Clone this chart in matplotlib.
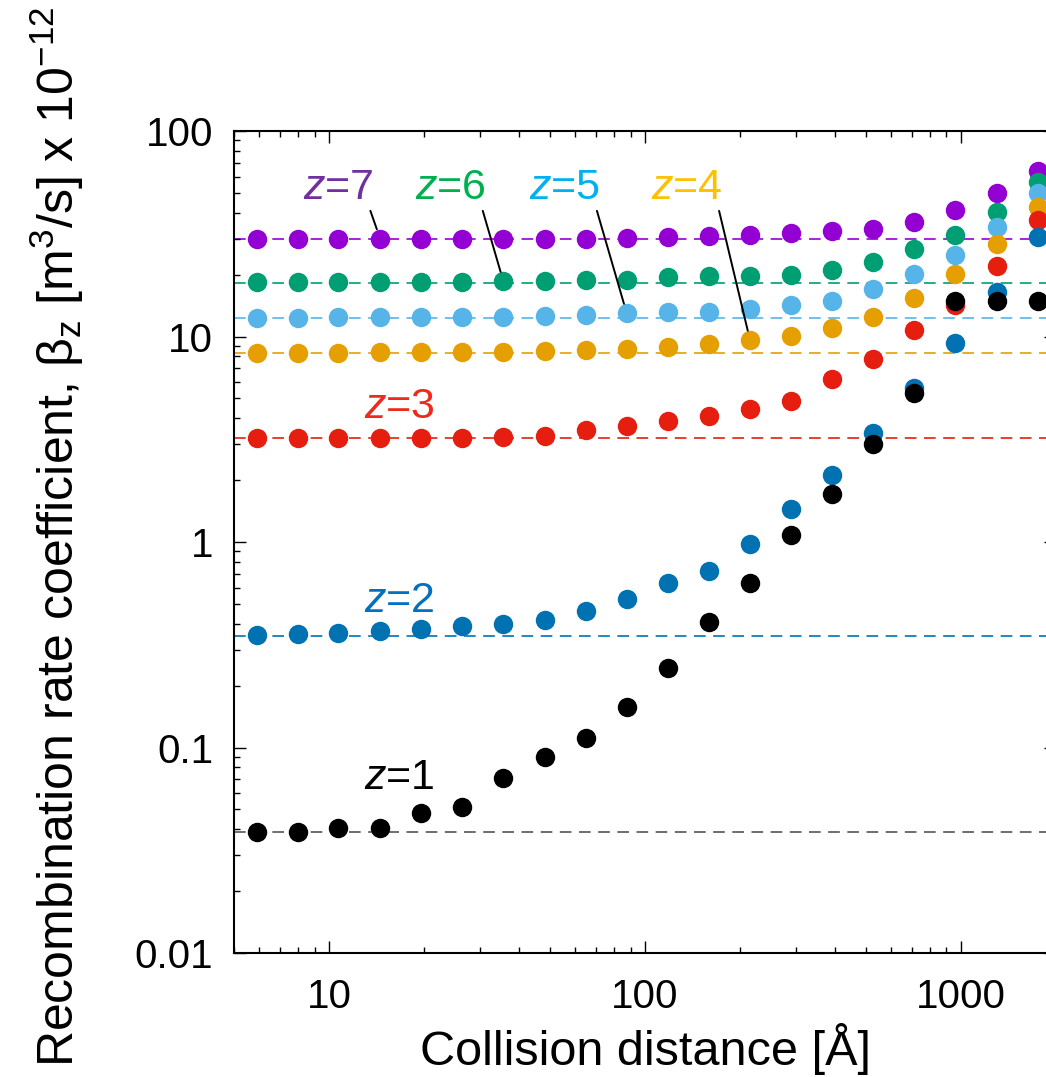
import matplotlib.pyplot as plt
from matplotlib.ticker import NullFormatter

plt.rcParams['font.family'] = 'Liberation Sans'
plt.rcParams['mathtext.fontset'] = 'custom'
plt.rcParams['mathtext.rm'] = 'Liberation Sans'
plt.rcParams['mathtext.it'] = 'Liberation Sans:italic'

# collision distance [Å]
dist = [5.9, 7.96, 10.7, 14.5, 19.6, 26.4, 35.6, 48.1, 64.9, 87.5,
        118, 159, 215, 290, 391, 528, 712, 961, 1297, 1750]

# recombination rate coefficient x 1e-12 m^3/s, one list per charge z
beta_z1 = [0.0389, 0.0389, 0.0404, 0.0404, 0.0478, 0.0515, 0.0708, 0.0902, 0.111, 0.158,
           0.243, 0.407, 0.630, 1.08, 1.71, 3.00, 5.33, 14.9, 14.9, 14.9]
beta_z2 = [0.353, 0.357, 0.362, 0.370, 0.377, 0.390, 0.399, 0.417, 0.463, 0.528,
           0.630, 0.723, 0.977, 1.45, 2.12, 3.40, 5.60, 9.35, 16.5, 30.5]
beta_z3 = [3.20, 3.20, 3.20, 3.20, 3.21, 3.21, 3.23, 3.29, 3.51, 3.68,
           3.89, 4.12, 4.44, 4.87, 6.19, 7.75, 10.8, 14.2, 22.0, 36.9]
beta_z4 = [8.30, 8.32, 8.36, 8.38, 8.40, 8.42, 8.45, 8.47, 8.60, 8.70,
           8.90, 9.20, 9.60, 10.1, 11.0, 12.4, 15.4, 20.1, 28.2, 42.8]
beta_z5 = [12.3, 12.3, 12.4, 12.4, 12.4, 12.5, 12.5, 12.6, 12.7, 13.0,
           13.1, 13.2, 13.6, 14.2, 14.9, 17.0, 20.1, 25.0, 34.2, 49.8]
beta_z6 = [18.5, 18.5, 18.5, 18.5, 18.5, 18.5, 18.6, 18.7, 18.8, 18.9,
           19.6, 19.7, 19.8, 19.9, 21.1, 23.0, 26.7, 31.1, 40.5, 56.7]
beta_z7 = [30.0, 30.0, 30.0, 30.0, 30.0, 30.0, 30.0, 30.0, 30.0, 30.1,
           30.5, 30.8, 31.2, 31.8, 32.7, 33.5, 36.1, 41.3, 50.2, 64.2]

# low-distance limits (dashed lines)
limits = [0.0389, 0.350, 3.20, 8.34, 12.35, 18.15, 30.0]

charges = [1, 2, 3, 4, 5, 6, 7]
series = [beta_z1, beta_z2, beta_z3, beta_z4, beta_z5, beta_z6, beta_z7]
dot_colors = ['black', '#0072B2', '#E51E10', '#E69F00', '#56B4E9', '#009E73', '#9400D3']
line_colors = ['#555555', '#0072B2', '#E51E10', '#E69F00', '#56B4E9', '#009E73', '#9400D3']
text_colors = ['black', '#0070C0', '#EE2A1C', '#FFC000', '#00B0F0', '#00B050', '#7030A0']

# label positions (data coords); pointer index into dist (None = no pointer)
label_x = [16.7, 16.7, 16.7, 136, 55.8, 24.3, 10.7]
label_y = [0.0711, 0.516, 4.54, 52.8, 52.8, 52.8, 52.8]
label_ptr = [None, None, None, 12, 9, 6, 3]

fig = plt.figure(figsize=(10.46, 10.77), dpi=100)
ax = fig.add_axes([0.2237, 0.1151, 0.7859, 0.7632])
ax.set_xscale('log')
ax.set_yscale('log')

# draw highest charge first so lower charges sit on top
for k in reversed(range(len(charges))):
    ax.axhline(limits[k], color=line_colors[k], lw=1.2, ls=(0, (7, 4.5)), zorder=1)
    ax.plot(dist, series[k], 'o', ms=14, color=dot_colors[k], mec='none', zorder=2)

for k, z in enumerate(charges):
    txt = '$z$=%d' % z
    if label_ptr[k] is None:
        ax.text(label_x[k], label_y[k], txt, ha='center', va='center',
                color=text_colors[k], fontsize=31, zorder=4)
    else:
        i = label_ptr[k]
        ax.annotate(txt, xy=(dist[i], series[k][i]), xytext=(label_x[k], label_y[k]),
                    ha='center', va='center', color=text_colors[k], fontsize=31, zorder=4,
                    arrowprops=dict(arrowstyle='-', color='black', lw=1.4,
                                    relpos=(0.93, 0.05), shrinkA=0, shrinkB=7))

ax.set_xlim(5, 2000)
ax.set_ylim(0.01, 100)
ax.set_xticks([10, 100, 1000], ['10', '100', '1000'])
ax.set_yticks([0.01, 0.1, 1, 10, 100], ['0.01', '0.1', '1', '10', '100'])
ax.xaxis.set_minor_formatter(NullFormatter())
ax.yaxis.set_minor_formatter(NullFormatter())

ax.tick_params(which='both', direction='in', top=True, right=True, width=1.0,
               labelsize=29)
ax.tick_params(which='major', length=8.6)
ax.tick_params(which='minor', length=4.3)
ax.tick_params(axis='y', pad=15)
ax.tick_params(axis='x', pad=18)
for spine in ax.spines.values():
    spine.set_linewidth(1.5)

ax.set_xlabel('Collision distance [Å]', fontsize=35)
ax.set_ylabel('Recombination rate coefficient, β$_\\mathregular{z}$ '
              '[m$^\\mathregular{3}$/s] x 10$^\\mathregular{−12}$', fontsize=36)
ax.xaxis.set_label_coords(0.5, -0.085)
ax.yaxis.set_label_coords(-0.18, 0.506)

fig.savefig('out.png', dpi=100)
